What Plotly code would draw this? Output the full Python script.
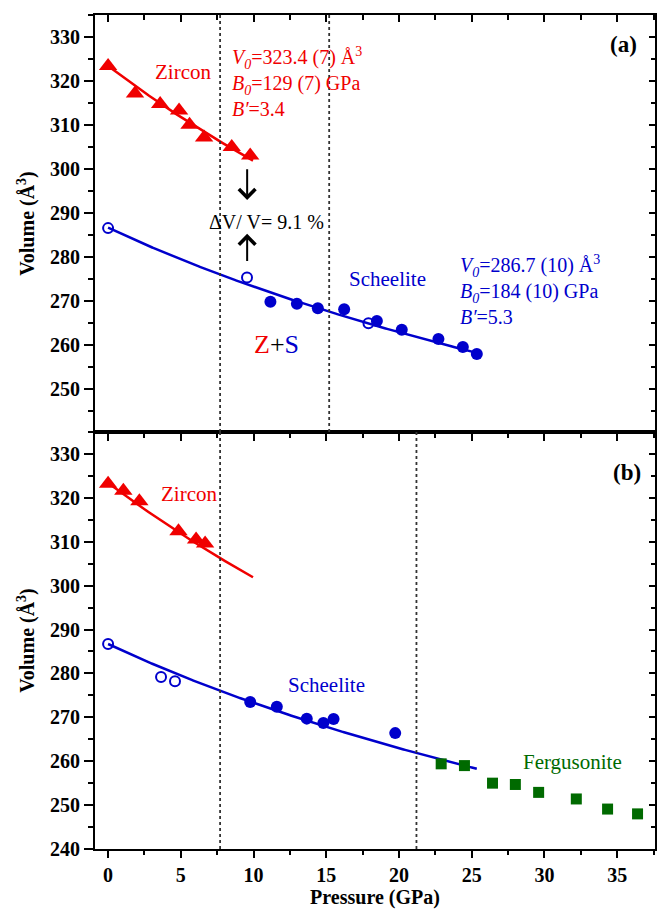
import numpy as np
import plotly.graph_objects as go

# ---- (a) zircon + scheelite mixture run ----
zr_a_p = [0.0, 1.85, 3.58, 4.88, 5.6, 6.6, 8.5, 9.77]
zr_a_v = [323.4, 317.2, 314.8, 313.3, 310.1, 307.2, 305.0, 303.1]
sch_a_open_p = [0.0, 9.55, 17.9]
sch_a_open_v = [286.6, 275.4, 265.0]
sch_a_p = [11.16, 12.98, 14.42, 16.23, 18.48, 20.19, 22.71, 24.39, 25.35]
sch_a_v = [269.9, 269.4, 268.4, 268.2, 265.5, 263.5, 261.4, 259.6, 258.0]
trans_a = [7.7, 15.2]

# ---- (b) zircon -> scheelite -> fergusonite run ----
zr_b_p = [0.0, 1.05, 2.15, 4.84, 6.05, 6.67]
zr_b_v = [323.2, 321.6, 319.2, 312.4, 310.5, 309.6]
sch_b_open_p = [0.0, 3.64, 4.6]
sch_b_open_v = [286.7, 279.2, 278.2]
sch_b_p = [9.77, 11.6, 13.66, 14.8, 15.5, 19.74]
sch_b_v = [273.5, 272.4, 269.7, 268.7, 269.6, 266.4]
fg_p = [22.9, 24.5, 26.43, 28.0, 29.6, 32.19, 34.34, 36.4]
fg_v = [259.4, 259.0, 255.0, 254.7, 252.9, 251.4, 249.1, 248.0]
trans_b = [7.7, 21.2]

# Birch-Murnaghan EOS parameters (V0 in A^3, B0 in GPa, B')
zircon_eos = (323.4, 129.0, 3.4)
scheelite_eos = (286.7, 184.0, 5.3)
zircon_pmax = 10.0
scheelite_pmax = 25.4

# volume collapse arrows at the transition (tail volume, head volume)
collapse_p = 9.56
arrow_down = (300.3, 293.0)
arrow_up = (278.8, 285.3)

RED = "#F00000"
BLUE = "#0000CC"
GREEN = "#006A00"
FONT = "Liberation Serif, Times New Roman, serif"


def bm3_curve(eos, pmax):
    """Third-order Birch-Murnaghan P(V) sampled along V/V0."""
    v0, b0, bp = eos
    x = np.linspace(1.0, 0.80, 600)
    f = x ** (-2.0 / 3.0)
    p = 1.5 * b0 * (x ** (-7.0 / 3.0) - x ** (-5.0 / 3.0)) * (1 + 0.75 * (bp - 4) * (f - 1))
    keep = p <= pmax
    return p[keep], v0 * x[keep]


zr_fit_p, zr_fit_v = bm3_curve(zircon_eos, zircon_pmax)
sch_fit_p, sch_fit_v = bm3_curve(scheelite_eos, scheelite_pmax)

fig = go.Figure()


def add(x, y, xa, ya, **kw):
    fig.add_trace(go.Scatter(x=x, y=y, xaxis=xa, yaxis=ya, showlegend=False,
                             hoverinfo="skip", **kw))


# panel (a) on x2/y2
add(zr_fit_p, zr_fit_v, "x2", "y2", mode="lines", line=dict(color=RED, width=2.5))
add(sch_fit_p, sch_fit_v, "x2", "y2", mode="lines", line=dict(color=BLUE, width=2.5))
add(zr_a_p, zr_a_v, "x2", "y2", mode="markers",
    marker=dict(symbol="triangle-up", size=16, color=RED))
add(sch_a_open_p, sch_a_open_v, "x2", "y2", mode="markers",
    marker=dict(symbol="circle-open", size=10, color=BLUE, line=dict(width=2)))
add(sch_a_p, sch_a_v, "x2", "y2", mode="markers",
    marker=dict(symbol="circle", size=12, color=BLUE))

# panel (b) on x/y
add(zr_fit_p, zr_fit_v, "x", "y", mode="lines", line=dict(color=RED, width=2.5))
add(sch_fit_p, sch_fit_v, "x", "y", mode="lines", line=dict(color=BLUE, width=2.5))
add(zr_b_p, zr_b_v, "x", "y", mode="markers",
    marker=dict(symbol="triangle-up", size=16, color=RED))
add(sch_b_open_p, sch_b_open_v, "x", "y", mode="markers",
    marker=dict(symbol="circle-open", size=10, color=BLUE, line=dict(width=2)))
add(sch_b_p, sch_b_v, "x", "y", mode="markers",
    marker=dict(symbol="circle", size=12, color=BLUE))
add(fg_p, fg_v, "x", "y", mode="markers",
    marker=dict(symbol="square", size=11, color=GREEN))

# empty traces so the mirrored tick axes get drawn
add([], [], "x3", "y", mode="markers")
add([], [], "x", "y3", mode="markers")
add([], [], "x4", "y2", mode="markers")
add([], [], "x2", "y4", mode="markers")

# phase boundaries
for p in trans_a:
    fig.add_shape(type="line", xref="x2", yref="y2 domain", x0=p, x1=p, y0=0, y1=1,
                  line=dict(color="#333333", width=1.8, dash="dot"))
for p in trans_b:
    fig.add_shape(type="line", xref="x", yref="y domain", x0=p, x1=p, y0=0, y1=1,
                  line=dict(color="#333333", width=1.8, dash="dot"))

XR = [-0.9, 37.6]
tickfont = dict(family=FONT, size=20, color="black", weight="bold")
titlefont = dict(family=FONT, size=20, color="black", weight="bold")

base_x = dict(range=XR, showgrid=False, zeroline=False, showline=True, linecolor="black",
              linewidth=2, mirror=True, dtick=5, tick0=0, ticks="outside", ticklen=7,
              tickwidth=1.5, tickcolor="black",
              minor=dict(ticks="outside", dtick=2.5, tick0=0, ticklen=4, tickwidth=1.5,
                         tickcolor="black"),
              automargin=False)
base_y = dict(showgrid=False, zeroline=False, showline=True, linecolor="black",
              linewidth=2, mirror=True, dtick=10, tick0=0, ticks="outside", ticklen=9,
              tickwidth=1.5, tickcolor="black",
              minor=dict(ticks="outside", dtick=5, tick0=0, ticklen=5, tickwidth=1.5,
                         tickcolor="black"),
              tickfont=tickfont, automargin=False,
              title=dict(text="Volume (Å<sup>3</sup>)", font=titlefont, standoff=10))
mirror_x = dict(range=XR, showgrid=False, zeroline=False, showline=False, side="top",
                dtick=5, tick0=0, ticks="inside", ticklen=7, tickwidth=1.5,
                tickcolor="black", showticklabels=False,
                minor=dict(ticks="inside", dtick=2.5, tick0=0, ticklen=5, tickwidth=1.5,
                           tickcolor="black"))
mirror_y = dict(showgrid=False, zeroline=False, showline=False, side="right",
                dtick=10, tick0=0, ticks="inside", ticklen=6, tickwidth=1.5,
                tickcolor="black", showticklabels=False,
                minor=dict(ticks="inside", dtick=5, tick0=0, ticklen=4, tickwidth=1.5,
                           tickcolor="black"))

fig.update_layout(
    width=662, height=909,
    margin=dict(l=95, r=7, t=15, b=60),
    paper_bgcolor="white", plot_bgcolor="white",
    font=dict(family=FONT, color="black"),
    xaxis=dict(base_x, anchor="y", tickfont=tickfont,
               title=dict(text="Pressure (GPa)", font=titlefont, standoff=6)),
    yaxis=dict(base_y, domain=[0, 0.5], range=[240, 335], anchor="x"),
    xaxis2=dict(base_x, anchor="y2", showticklabels=False),
    yaxis2=dict(base_y, domain=[0.5, 1], range=[240.3, 335], anchor="x2"),
    xaxis3=dict(mirror_x, overlaying="x", anchor="y"),
    yaxis3=dict(mirror_y, overlaying="y", anchor="x", range=[240, 335]),
    xaxis4=dict(mirror_x, overlaying="x2", anchor="y2"),
    yaxis4=dict(mirror_y, overlaying="y2", anchor="x2", range=[240.3, 335]),
)


def note(text, x, y, panel, size=20, color="black", xanchor="center", **kw):
    xr, yr = ("x2", "y2") if panel == "a" else ("x", "y")
    fig.add_annotation(text=text, x=x, y=y, xref=xr, yref=yr, showarrow=False,
                       xanchor=xanchor, yanchor="middle",
                       font=dict(family=FONT, size=size, color=color), **kw)


# panel (a) labels
note("Zircon", 3.1, 322.0, "a", size=21, color=RED, xanchor="left")
note("<i>V<sub>0</sub></i>=323.4 (7) Å<sup>3</sup><br>"
     "<i>B<sub>0</sub></i>=129 (7) GPa<br><i>B′</i>=3.4",
     8.4, 319.7, "a", size=20, color=RED, xanchor="left", align="left")
note("ΔV/ V= 9.1 %", 6.8, 288.1, "a", size=20, xanchor="left")
for tail, head in (arrow_down, arrow_up):
    fig.add_annotation(x=collapse_p, y=head, ax=collapse_p, ay=tail,
                       xref="x2", yref="y2", axref="x2", ayref="y2", text="",
                       showarrow=True, arrowhead=4, arrowsize=1.6, arrowwidth=2,
                       arrowcolor="black")
note("<span style='color:%s'>Z</span>+<span style='color:%s'>S</span>" % (RED, BLUE),
     11.55, 260.1, "a", size=26)
note("Scheelite", 19.2, 275.1, "a", size=21, color=BLUE)
note("<i>V<sub>0</sub></i>=286.7 (10) Å<sup>3</sup><br>"
     "<i>B<sub>0</sub></i>=184 (10) GPa<br><i>B′</i>=5.3",
     24.07, 272.6, "a", size=20, color=BLUE, xanchor="left", align="left")
fig.add_annotation(text="<b>(a)</b>", x=35.4, y=328.3, xref="x2", yref="y2",
                   showarrow=False, font=dict(family=FONT, size=23, color="black"))

# panel (b) labels
note("Zircon", 5.54, 320.9, "b", size=21, color=RED)
note("Scheelite", 12.2, 277.3, "b", size=21, color=BLUE, xanchor="left")
note("Fergusonite", 31.9, 259.8, "b", size=21, color=GREEN)
fig.add_annotation(text="<b>(b)</b>", x=35.7, y=325.7, xref="x", yref="y",
                   showarrow=False, font=dict(family=FONT, size=23, color="black"))

fig.write_html("out.html")
